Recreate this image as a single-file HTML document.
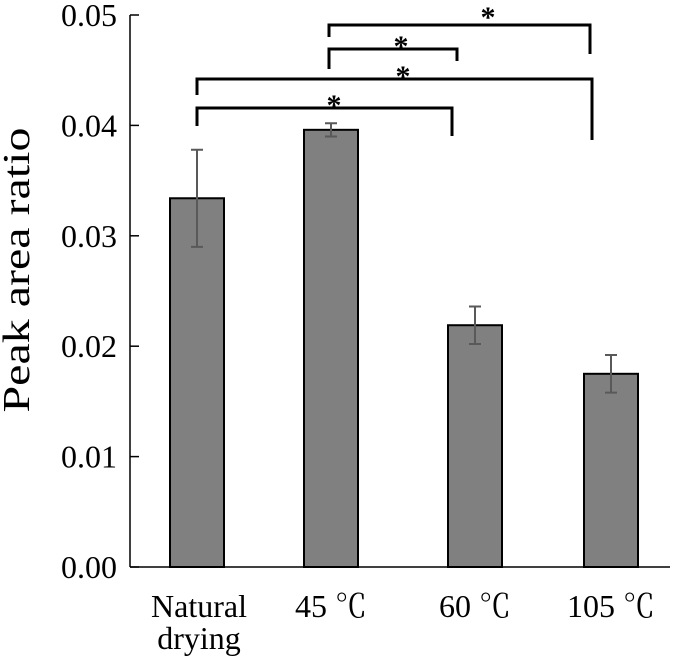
<!DOCTYPE html>
<html><head><meta charset="utf-8"><style>
body{margin:0;background:#fff}
svg text{font-family:"Liberation Serif","Noto Serif CJK SC",serif;fill:#000}
</style></head><body>
<svg id="c" width="685" height="660"></svg>
<script>
const categories=["Natural|drying","45 ℃","60 ℃","105 ℃"];
const values=[0.0334,0.0396,0.0219,0.0175];
const errors=[0.0044,0.0006,0.0017,0.0017];
const yTicks=[0,0.01,0.02,0.03,0.04,0.05];
const tickLabels=["0.00","0.01","0.02","0.03","0.04","0.05"];
const centers=[197,331,475,611];
const ns="http://www.w3.org/2000/svg";
const svg=document.getElementById('c');
const y=v=>567-v*11040;
function el(t,a,p){const e=document.createElementNS(ns,t);for(const k in a)e.setAttribute(k,a[k]);(p||svg).appendChild(e);return e;}
let ax=el('line',{x1:130,y1:15,x2:130,y2:567,stroke:'#000','stroke-width':1.5});


let xa=el('line',{x1:130,y1:567,x2:670,y2:567,stroke:'#000','stroke-width':1.5});


yTicks.forEach((t,i)=>{
 let l=el('line',{x1:130,x2:139,y1:y(t),y2:y(t),stroke:'#000','stroke-width':1.5});
 
 
 let tx=el('text',{x:117,y:y(t)+11,'text-anchor':'end','font-size':32});
 tx.textContent=tickLabels[i];
 
 
});
let yt=el('text',{x:0,y:0,'font-size':38,transform:'translate(29,270) rotate(-90)','text-anchor':'middle',textLength:285,lengthAdjust:'spacingAndGlyphs'});
yt.textContent='Peak area ratio';


values.forEach((v,i)=>{
 const cx=centers[i];
 let b=el('rect',{x:cx-27,y:y(v),width:54,height:567-y(v),fill:'#808080',stroke:'#000','stroke-width':2});
 
 
 const t=y(v+errors[i]),bt=y(v-errors[i]);
 let g=el('path',{d:`M${cx},${t}V${bt}M${cx-6},${t}H${cx+6}M${cx-6},${bt}H${cx+6}`,stroke:'#595959','stroke-width':2,fill:'none'});
 
 
 const parts=categories[i].split('|');
 parts.forEach((p,j)=>{
  let tx=el('text',{x:cx+(i==0?2:0),y:617+j*32,'text-anchor':'middle','font-size':32});
  tx.textContent=p;
  
  
 });
});
const brackets=[[197,452,108,126,136,334,115],[197,592,79,95,140,403,86],[329,457,49,69,61,401,56],[329,590,25,37,54,488,27]];
brackets.forEach(b=>{
 let p=el('path',{d:`M${b[0]},${b[3]}V${b[2]}H${b[1]}V${b[4]}`,stroke:'#000','stroke-width':3,fill:'none'});
 
 
 let s=el('text',{x:b[5],y:b[6],'text-anchor':'middle','font-size':30,'font-weight':'bold','font-family':'Liberation Sans'});
 s.textContent='*';
 
 
});
</script>
</body></html>
